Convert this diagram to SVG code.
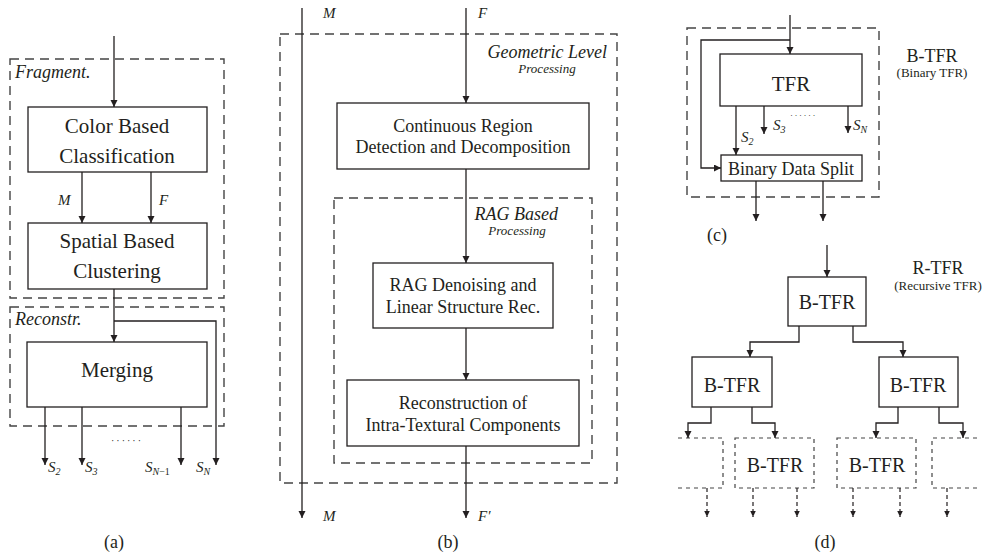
<svg xmlns="http://www.w3.org/2000/svg" width="988" height="557" viewBox="0 0 988 557" font-family="'Liberation Serif', 'DejaVu Serif', 'Noto Serif', Tinos, serif">
<style>
.ln{fill:none;stroke:#231f20;stroke-width:1.3}
.ar{fill:none;stroke:#231f20;stroke-width:1.3;marker-end:url(#ah)}
.dar{fill:none;stroke:#231f20;stroke-width:1.2;stroke-dasharray:4 3;marker-end:url(#ahs)}
.box{fill:#fff;stroke:#231f20;stroke-width:1.3}
.dbox{fill:none;stroke:#444;stroke-width:1.4;stroke-dasharray:9 6}
.dsm{fill:none;stroke:#444;stroke-width:1.2;stroke-dasharray:4 4}
text{font-family:'Liberation Serif','DejaVu Serif','Noto Serif',Tinos,serif;fill:#231f20}
.t21{font-size:21px;text-anchor:middle}
.t18{font-size:18px;text-anchor:middle}
.t20{font-size:20px;text-anchor:middle}
.it{font-style:italic}
.sm{font-size:13px;font-style:italic;text-anchor:middle}
.sub{font-size:13px;text-anchor:middle}
.m{font-style:italic;font-size:15px}
</style>
<defs>
<marker id="ah" markerUnits="userSpaceOnUse" markerWidth="8" markerHeight="8" refX="7" refY="3.5" orient="auto"><path d="M0,0 L7,3.5 L0,7 z" fill="#231f20"/></marker>
<marker id="ahs" markerUnits="userSpaceOnUse" markerWidth="7" markerHeight="6" refX="6" refY="2.75" orient="auto"><path d="M0,0 L6,2.75 L0,5.5 z" fill="#231f20"/></marker>
</defs>
<rect width="988" height="557" fill="#fff"/>

<!-- Panel (a) -->
<g id="a-fragment">
<rect class="dbox" x="10" y="59" width="214" height="239"/>
<text class="it" x="15" y="78" font-size="18">Fragment.</text>
</g>
<g id="a-reconstr">
<rect class="dbox" x="10" y="307" width="214" height="119"/>
<text class="it" x="15" y="325" font-size="18">Reconstr.</text>
</g>
<g id="a-color">
<rect class="box" x="28" y="107" width="179" height="65"/>
<text class="t21" x="117" y="133">Color Based</text>
<text class="t21" x="117" y="163">Classification</text>
</g>
<g id="a-spatial">
<rect class="box" x="28" y="223" width="179" height="66"/>
<text class="t21" x="117" y="248">Spatial Based</text>
<text class="t21" x="117" y="278">Clustering</text>
</g>
<g id="a-merging">
<rect class="box" x="27" y="342" width="180" height="65"/>
<text class="t21" x="117" y="377">Merging</text>
</g>

<!-- Panel (b) -->
<g id="b-geometric">
<rect class="dbox" x="280" y="34" width="337" height="449"/>
<text class="it" x="607" y="58" font-size="18" text-anchor="end">Geometric Level</text>
<text class="sm" x="547" y="73">Processing</text>
</g>
<g id="b-rag">
<rect class="dbox" x="334" y="198" width="258" height="265"/>
<text class="it" x="558" y="220" font-size="18" text-anchor="end">RAG Based</text>
<text class="sm" x="517" y="235">Processing</text>
</g>
<g id="b-continuous">
<rect class="box" x="337" y="103" width="252" height="66"/>
<text class="t18" x="463" y="132">Continuous Region</text>
<text class="t18" x="463" y="153">Detection and Decomposition</text>
</g>
<g id="b-denoise">
<rect class="box" x="373" y="263" width="180" height="65"/>
<text class="t18" x="463" y="291">RAG Denoising and</text>
<text class="t18" x="463" y="313">Linear Structure Rec.</text>
</g>
<g id="b-reconstruction">
<rect class="box" x="347" y="380" width="232" height="66"/>
<text class="t18" x="463" y="409">Reconstruction of</text>
<text class="t18" x="463" y="431">Intra-Textural Components</text>
</g>

<!-- Panel (c) -->
<g id="c-btfr">
<rect class="dbox" x="687" y="28" width="192" height="169"/>
<text class="t18" x="932" y="62">B-TFR</text>
<text class="sub" x="932" y="77">(Binary TFR)</text>
</g>
<g id="c-tfr">
<rect class="box" x="720" y="54" width="142" height="52"/>
<text class="t21" x="791" y="91" font-size="22">TFR</text>
</g>
<g id="c-split">
<rect class="box" x="721" y="155" width="141" height="26"/>
<text class="t18" x="791" y="175">Binary Data Split</text>
</g>

<!-- Panel (d) -->
<g id="d-top">
<rect class="box" x="788" y="277" width="78" height="49"/>
<text class="t20" x="827" y="309">B-TFR</text>
<text class="t18" x="938" y="274">R-TFR</text>
<text class="sub" x="938" y="290">(Recursive TFR)</text>
</g>
<g id="d-left">
<rect class="box" x="692" y="357" width="80" height="50"/>
<text class="t20" x="732" y="392">B-TFR</text>
</g>
<g id="d-right">
<rect class="box" x="879" y="357" width="79" height="50"/>
<text class="t20" x="918" y="392">B-TFR</text>
</g>
<g id="d-dash1">
<path class="dsm" d="M678,438 H723 V488 H678"/>
</g>
<g id="d-dash2">
<rect class="dsm" x="735" y="438" width="79" height="50"/>
<text class="t20" x="775" y="472">B-TFR</text>
</g>
<g id="d-dash3">
<rect class="dsm" x="837" y="438" width="79" height="50"/>
<text class="t20" x="877" y="472">B-TFR</text>
</g>
<g id="d-dash4">
<path class="dsm" d="M977,438 H932 V488 H977"/>
</g>

<g id="connectors">
<!-- (a) -->
<path class="ar" d="M114,36 V107"/>
<path class="ar" d="M82,172 V223"/>
<path class="ar" d="M151,172 V223"/>
<path class="ar" d="M114,289 V342"/>
<path class="ar" d="M114,321 H216 V465"/>
<path class="ar" d="M45,407 V465"/>
<path class="ar" d="M82,407 V465"/>
<path class="ar" d="M181,407 V465"/>
<!-- (b) -->
<path class="ar" d="M302,8 V518"/>
<path class="ar" d="M466,8 V103"/>
<path class="ar" d="M466,169 V263"/>
<path class="ar" d="M466,328 V380"/>
<path class="ar" d="M466,446 V518"/>
<!-- (c) -->
<path class="ar" d="M790,15 V54"/>
<path class="ar" d="M790,40 H701 V168 H721"/>
<path class="ar" d="M736,106 V155"/>
<path class="ar" d="M764,106 V134"/>
<path class="ar" d="M848,106 V133"/>
<path class="ar" d="M756,181 V221"/>
<path class="ar" d="M823,181 V221"/>
<!-- (d) -->
<path class="ar" d="M827,245 V277"/>
<path class="ar" d="M799,326 V342 H750 V357"/>
<path class="ar" d="M853,326 V342 H903 V357"/>
<path class="ar" d="M711,407 V423 H688 V438"/>
<path class="ar" d="M752,407 V423 H775 V438"/>
<path class="ar" d="M898,407 V423 H876 V438"/>
<path class="ar" d="M939,407 V423 H963 V438"/>
<path class="dar" d="M707,488 V517"/>
<path class="dar" d="M753,488 V517"/>
<path class="dar" d="M797,488 V517"/>
<path class="dar" d="M853,488 V517"/>
<path class="dar" d="M900,488 V517"/>
<path class="dar" d="M947,488 V517"/>
</g>

<g id="labels">
<text class="m" x="58" y="205">M</text>
<text class="m" x="159" y="205">F</text>
<text class="m" x="48" y="472">S<tspan font-size="10" dy="3">2</tspan></text>
<text class="m" x="85" y="472">S<tspan font-size="10" dy="3">3</tspan></text>
<text class="m" x="145" y="472">S<tspan font-size="10" dy="3" font-style="italic">N</tspan><tspan font-size="10" font-style="normal">−1</tspan></text>
<text class="m" x="196" y="472">S<tspan font-size="10" dy="3">N</tspan></text>
<text x="111" y="444" font-size="10" letter-spacing="2">······</text>
<text class="t18" x="114" y="548">(a)</text>

<text class="m" x="323" y="18">M</text>
<text class="m" x="478" y="18">F</text>
<text class="m" x="323" y="521">M</text>
<text class="m" x="478" y="521">F′</text>
<text class="t18" x="448" y="548">(b)</text>

<text class="m" x="741" y="142">S<tspan font-size="10" dy="3">2</tspan></text>
<text class="m" x="773" y="130">S<tspan font-size="10" dy="3">3</tspan></text>
<text class="m" x="853" y="130">S<tspan font-size="10" dy="3">N</tspan></text>
<text x="790" y="118" font-size="9" letter-spacing="1.5">······</text>
<text class="t18" x="717" y="241">(c)</text>
<text class="t18" x="825" y="548">(d)</text>
</g>
</svg>
